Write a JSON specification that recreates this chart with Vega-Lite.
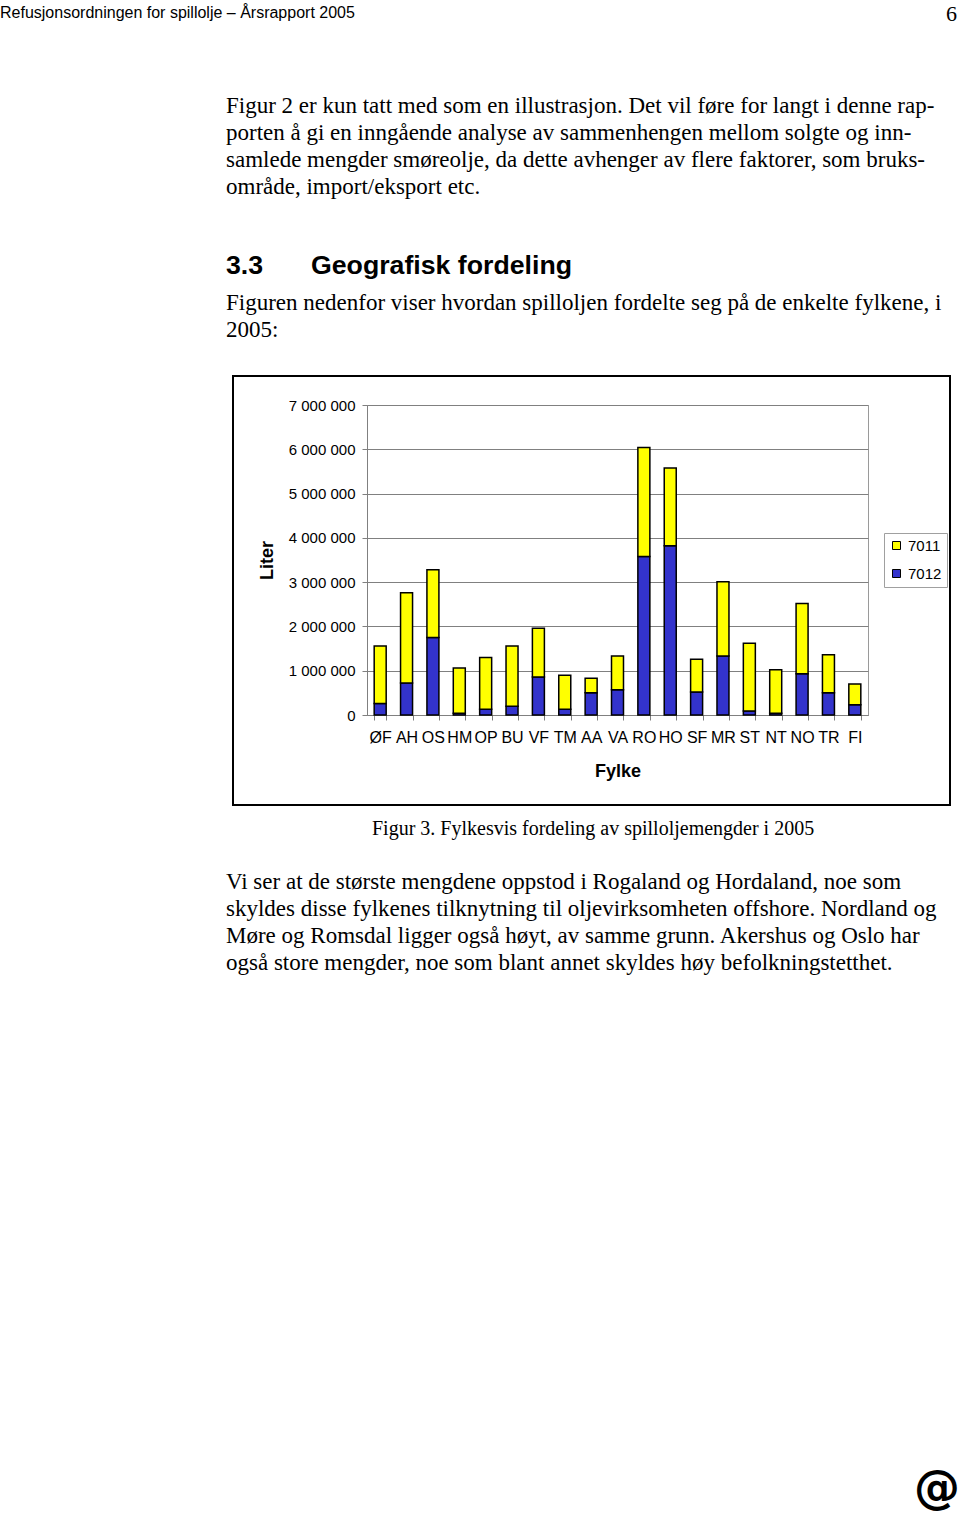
{
  "$schema": "https://vega.github.io/schema/vega-lite/v6.json",
  "width": 501,
  "height": 310,
  "autosize": {"type": "none"},
  "padding": {"left": 367, "top": 405, "right": 92, "bottom": 800},
  "background": "white",
  "config": {
    "view": {"stroke": "#9a9a9a", "strokeWidth": 1},
    "font": "Liberation Sans"
  },
  "layer": [
    {
      "data": {"values": [{"t": ""}]},
      "mark": {"type": "rect", "x": -134, "x2": 583, "y": -29, "y2": 400, "fill": null, "stroke": "black", "strokeWidth": 2},
      "encoding": {}
    },
    {
      "data": {"values": [
        {"fylke": "ØF", "code": "7012", "liter": 260000}, {"fylke": "ØF", "code": "7011", "liter": 1300000},
        {"fylke": "AH", "code": "7012", "liter": 720000}, {"fylke": "AH", "code": "7011", "liter": 2040000},
        {"fylke": "OS", "code": "7012", "liter": 1750000}, {"fylke": "OS", "code": "7011", "liter": 1530000},
        {"fylke": "HM", "code": "7012", "liter": 40000}, {"fylke": "HM", "code": "7011", "liter": 1020000},
        {"fylke": "OP", "code": "7012", "liter": 130000}, {"fylke": "OP", "code": "7011", "liter": 1170000},
        {"fylke": "BU", "code": "7012", "liter": 200000}, {"fylke": "BU", "code": "7011", "liter": 1360000},
        {"fylke": "VF", "code": "7012", "liter": 860000}, {"fylke": "VF", "code": "7011", "liter": 1100000},
        {"fylke": "TM", "code": "7012", "liter": 130000}, {"fylke": "TM", "code": "7011", "liter": 770000},
        {"fylke": "AA", "code": "7012", "liter": 500000}, {"fylke": "AA", "code": "7011", "liter": 330000},
        {"fylke": "VA", "code": "7012", "liter": 570000}, {"fylke": "VA", "code": "7011", "liter": 760000},
        {"fylke": "RO", "code": "7012", "liter": 3580000}, {"fylke": "RO", "code": "7011", "liter": 2460000},
        {"fylke": "HO", "code": "7012", "liter": 3820000}, {"fylke": "HO", "code": "7011", "liter": 1760000},
        {"fylke": "SF", "code": "7012", "liter": 520000}, {"fylke": "SF", "code": "7011", "liter": 740000},
        {"fylke": "MR", "code": "7012", "liter": 1330000}, {"fylke": "MR", "code": "7011", "liter": 1680000},
        {"fylke": "ST", "code": "7012", "liter": 90000}, {"fylke": "ST", "code": "7011", "liter": 1530000},
        {"fylke": "NT", "code": "7012", "liter": 40000}, {"fylke": "NT", "code": "7011", "liter": 980000},
        {"fylke": "NO", "code": "7012", "liter": 930000}, {"fylke": "NO", "code": "7011", "liter": 1590000},
        {"fylke": "TR", "code": "7012", "liter": 500000}, {"fylke": "TR", "code": "7011", "liter": 860000},
        {"fylke": "FI", "code": "7012", "liter": 230000}, {"fylke": "FI", "code": "7011", "liter": 470000}
      ]},
      "mark": {"type": "bar", "stroke": "black", "strokeWidth": 1.5},
      "encoding": {
        "x": {
          "field": "fylke", "type": "nominal", "sort": null,
          "scale": {"paddingInner": 0.545, "paddingOuter": 0.2725},
          "axis": {
            "title": "Fylke", "titleFont": "Liberation Sans", "titleFontSize": 18, "titleFontWeight": "bold", "titleColor": "black", "titlePadding": 17,
            "labelAngle": 0, "labelFont": "Liberation Sans", "labelFontSize": 16, "labelColor": "black", "labelPadding": 9, "labelOverlap": false,
            "domainColor": "#808080", "tickColor": "#808080", "tickSize": 5, "tickBand": "extent"
          }
        },
        "y": {
          "field": "liter", "type": "quantitative", "stack": "zero",
          "scale": {"domain": [0, 7000000], "nice": false},
          "axis": {
            "title": "Liter", "titleFont": "Liberation Sans", "titleFontSize": 18, "titleFontWeight": "bold", "titleColor": "black", "titlePadding": 12,
            "values": [0, 1000000, 2000000, 3000000, 4000000, 5000000, 6000000, 7000000],
            "labelExpr": "replace(format(datum.value, ','), regexp(',', 'g'), ' ')",
            "labelFont": "Liberation Sans", "labelFontSize": 15, "labelColor": "black", "labelPadding": 7,
            "grid": true, "gridColor": "#808080", "domainColor": "#808080", "tickColor": "#808080", "tickSize": 5
          }
        },
        "color": {
          "field": "code", "type": "nominal",
          "scale": {"domain": ["7011", "7012"], "range": ["#FFFF00", "#3333CC"]},
          "legend": {
            "title": null, "orient": "none", "legendX": 517, "legendY": 128,
            "strokeColor": "#a0a0a0", "fillColor": "white", "padding": 5,
            "symbolType": "square", "symbolSize": 64, "symbolStrokeColor": "black", "symbolStrokeWidth": 1,
            "labelFont": "Liberation Sans", "labelFontSize": 15, "labelColor": "black", "labelOffset": 4, "rowPadding": 12
          }
        },
        "order": {"field": "code", "sort": "descending"}
      }
    },
    {
      "data": {"values": [{"t": "Refusjonsordningen for spillolje – Årsrapport 2005"}]},
      "mark": {"type": "text", "x": -367, "y": -387, "align": "left", "baseline": "alphabetic", "font": "Liberation Sans", "fontSize": 16, "color": "black"},
      "encoding": {"text": {"field": "t"}}
    },
    {
      "data": {"values": [{"t": "6"}]},
      "mark": {"type": "text", "x": 590, "y": -384, "align": "right", "baseline": "alphabetic", "font": "Liberation Serif", "fontSize": 22, "color": "black"},
      "encoding": {"text": {"field": "t"}}
    },
    {
      "data": {"values": [{"t": "Figur 2 er kun tatt med som en illustrasjon. Det vil føre for langt i denne rap-\nporten å gi en inngående analyse av sammenhengen mellom solgte og inn-\nsamlede mengder smøreolje, da dette avhenger av flere faktorer, som bruks-\nområde, import/eksport etc."}]},
      "mark": {"type": "text", "x": -141, "y": -292, "align": "left", "baseline": "alphabetic", "font": "Liberation Serif", "fontSize": 23, "lineHeight": 27, "lineBreak": "\n", "color": "black"},
      "encoding": {"text": {"field": "t"}}
    },
    {
      "data": {"values": [{"t": "3.3"}]},
      "mark": {"type": "text", "x": -141, "y": -131, "align": "left", "baseline": "alphabetic", "font": "Liberation Sans", "fontSize": 26.7, "fontWeight": "bold", "color": "black"},
      "encoding": {"text": {"field": "t"}}
    },
    {
      "data": {"values": [{"t": "Geografisk fordeling"}]},
      "mark": {"type": "text", "x": -56, "y": -131, "align": "left", "baseline": "alphabetic", "font": "Liberation Sans", "fontSize": 26.7, "fontWeight": "bold", "color": "black"},
      "encoding": {"text": {"field": "t"}}
    },
    {
      "data": {"values": [{"t": "Figuren nedenfor viser hvordan spilloljen fordelte seg på de enkelte fylkene, i\n2005:"}]},
      "mark": {"type": "text", "x": -141, "y": -95, "align": "left", "baseline": "alphabetic", "font": "Liberation Serif", "fontSize": 23, "lineHeight": 27, "lineBreak": "\n", "color": "black"},
      "encoding": {"text": {"field": "t"}}
    },
    {
      "data": {"values": [{"t": "Figur 3. Fylkesvis fordeling av spilloljemengder i 2005"}]},
      "mark": {"type": "text", "x": 5, "y": 430, "align": "left", "baseline": "alphabetic", "font": "Liberation Serif", "fontSize": 20, "color": "black"},
      "encoding": {"text": {"field": "t"}}
    },
    {
      "data": {"values": [{"t": "Vi ser at de største mengdene oppstod i Rogaland og Hordaland, noe som\nskyldes disse fylkenes tilknytning til oljevirksomheten offshore. Nordland og\nMøre og Romsdal ligger også høyt, av samme grunn. Akershus og Oslo har\nogså store mengder, noe som blant annet skyldes høy befolkningstetthet."}]},
      "mark": {"type": "text", "x": -141, "y": 484, "align": "left", "baseline": "alphabetic", "font": "Liberation Serif", "fontSize": 23, "lineHeight": 27, "lineBreak": "\n", "color": "black"},
      "encoding": {"text": {"field": "t"}}
    },
    {
      "data": {"values": [{"t": "@"}]},
      "mark": {"type": "text", "x": 570, "y": 1084, "align": "center", "baseline": "middle", "font": "DejaVu Sans", "fontSize": 46, "fontWeight": "bold", "color": "black"},
      "encoding": {"text": {"field": "t"}}
    }
  ]
}
